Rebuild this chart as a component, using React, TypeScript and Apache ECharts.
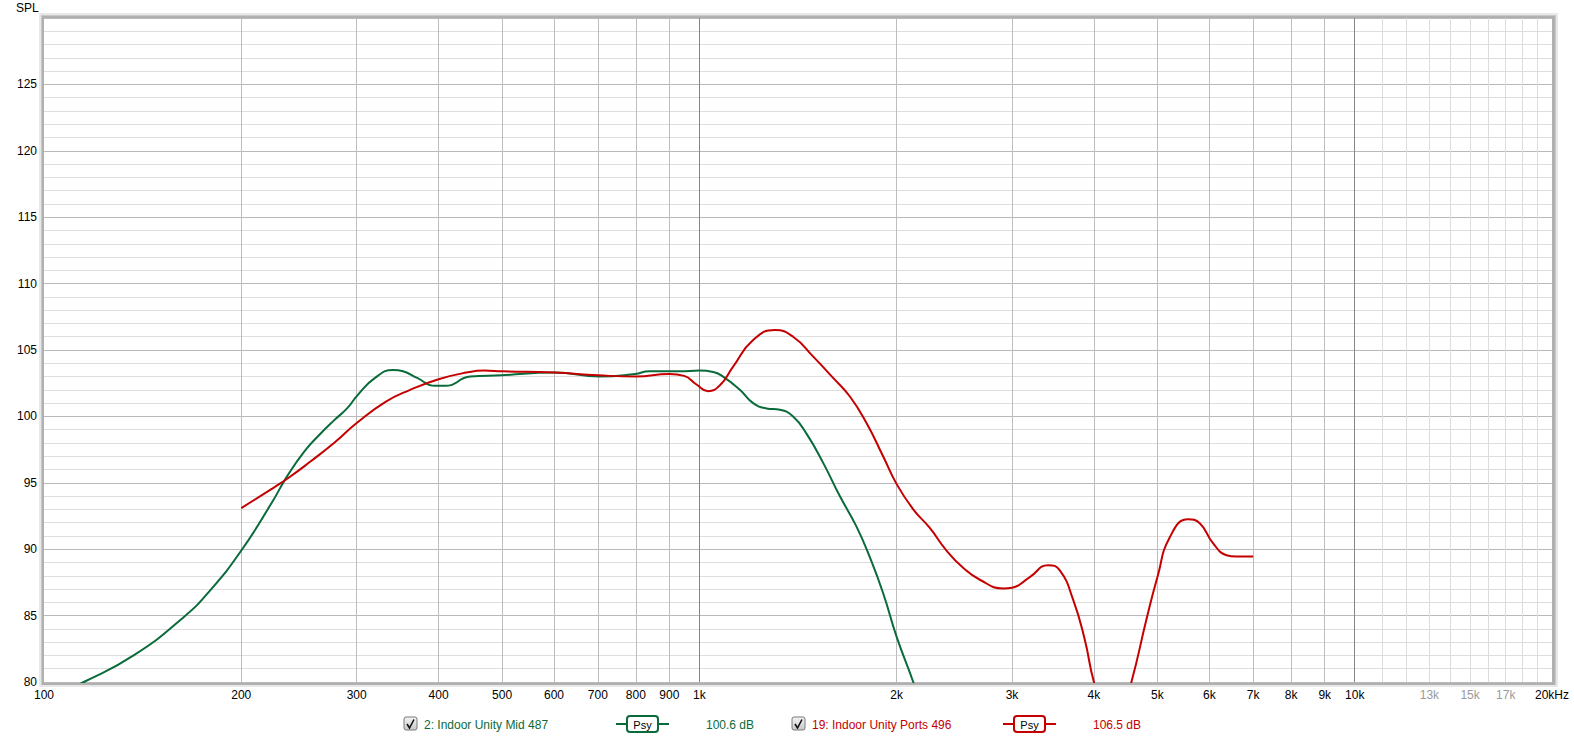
import React, { useEffect, useRef } from "react";
import * as echarts from "echarts";

// ---- data (frequency in Hz, level in dB SPL) ----
const midFreq = [100, 115, 137, 163.5, 180, 200, 222, 235, 250, 263, 277, 290, 301, 320, 341, 353, 371, 395, 410, 447, 499, 601, 705, 798, 838, 935, 1000, 1050, 1087, 1153, 1208, 1266, 1327, 1390, 1457, 1545, 1638, 1737, 1820, 1907, 2000, 2120, 2200];
const midDb = [78.6, 80.0, 82.0, 84.9, 87.0, 89.9, 93.4, 95.5, 97.4, 98.6, 99.7, 100.6, 101.6, 102.9, 103.5, 103.4, 102.9, 102.3, 102.3, 103.0, 103.1, 103.3, 103.0, 103.2, 103.4, 103.4, 103.45, 103.35, 103.0, 102.0, 101.0, 100.6, 100.5, 100.0, 98.7, 96.5, 94.0, 91.7, 89.4, 86.7, 83.4, 80.0, 77.5];

const portsFreq = [200, 222, 236.5, 255, 277, 300, 332, 362, 400, 441, 470, 500, 600, 700, 800, 900, 948, 990, 1031, 1075, 1126, 1208, 1304, 1390, 1492, 1600, 1697, 1799, 1907, 2000, 2120, 2247, 2383, 2526, 2679, 2908, 3000, 3193, 3405, 3548, 3718, 3873, 4000, 4280, 4563, 4810, 5000, 5222, 5570, 5802, 6078, 6373, 6600, 7000];
const portsDb = [93.1, 94.5, 95.4, 96.6, 98.0, 99.5, 101.1, 102.0, 102.8, 103.3, 103.45, 103.4, 103.3, 103.1, 103.0, 103.2, 103.05, 102.4, 101.9, 102.35, 103.75, 105.75, 106.5, 106.0, 104.5, 102.9, 101.5, 99.5, 97.0, 94.9, 93.0, 91.6, 89.9, 88.6, 87.7, 87.05, 87.1, 87.9, 88.8, 88.4, 86.2, 83.2, 80.0, 75.5, 80.0, 84.7, 87.9, 90.9, 92.25, 91.95, 90.45, 89.55, 89.45, 89.45];

const xLabelTicks = [100, 200, 300, 400, 500, 600, 700, 800, 900, 1000, 2000, 3000, 4000, 5000, 6000, 7000, 8000, 9000, 10000, 13000, 15000, 17000, 20000];
const grayLabels = [13000, 15000, 17000];
const xMajorLines = [200, 300, 400, 500, 600, 700, 800, 900, 2000, 3000, 4000, 5000, 6000, 7000, 8000, 9000];
const xDecadeLines = [1000, 10000];
const xFineLines = [11000, 12000, 13000, 14000, 15000, 16000, 17000, 18000, 19000];

const seriesNames = ["2: Indoor Unity Mid 487", "19: Indoor Unity Ports 496"];
const seriesLevels = ["100.6 dB", "106.5 dB"];

const GREEN = "#0a6b3a";
const RED = "#c40000";
const FONT = '"Liberation Sans", Arial, sans-serif';

const zip = (xs: number[], ys: number[]) => xs.map((x, i) => [x, ys[i]]);

function logAxis(extra: any) {
  return {
    type: "log",
    logBase: 10,
    min: 100,
    max: 20000,
    gridIndex: 0,
    position: "bottom",
    offset: 0,
    axisLine: { show: false },
    axisTick: { show: false },
    axisLabel: { show: false },
    splitLine: { show: false },
    ...extra,
  };
}

function valueAxis(extra: any) {
  return {
    type: "value",
    min: 80,
    max: 130,
    gridIndex: 0,
    position: "left",
    offset: 0,
    axisLine: { show: false },
    axisTick: { show: false },
    axisLabel: { show: false },
    splitLine: { show: false },
    ...extra,
  };
}

function legendItem(x0: number, name: string, level: string, color: string, psyX: number, levelX: number) {
  const cy = 724;
  return [
    {
      type: "rect",
      shape: { x: x0, y: cy - 7, width: 13, height: 13, r: 2 },
      style: {
        fill: new echarts.graphic.LinearGradient(0, 0, 0, 1, [
          { offset: 0, color: "#f4f4f4" },
          { offset: 1, color: "#c8c8c8" },
        ]),
        stroke: "#7a7a7a",
        lineWidth: 1,
      },
    },
    {
      type: "polyline",
      shape: { points: [[x0 + 3, cy], [x0 + 5.5, cy + 4], [x0 + 10, cy - 4.5]] },
      style: { stroke: "#111", lineWidth: 1.6, fill: null },
    },
    {
      type: "text",
      style: { text: name, x: x0 + 20, y: cy + 0.5, fill: color, font: `12px ${FONT}`, verticalAlign: "middle" },
    },
    {
      type: "line",
      shape: { x1: psyX, y1: cy, x2: psyX + 53, y2: cy },
      style: { stroke: color, lineWidth: 2 },
    },
    {
      type: "rect",
      shape: { x: psyX + 11, y: cy - 8, width: 31, height: 16, r: 3 },
      style: { fill: "#fff", stroke: color, lineWidth: 2 },
    },
    {
      type: "text",
      style: { text: "Psy", x: psyX + 26.5, y: cy + 0.5, fill: "#000", font: `11px ${FONT}`, align: "center", verticalAlign: "middle" },
    },
    {
      type: "text",
      style: { text: level, x: levelX, y: cy + 0.5, fill: color, font: `12px ${FONT}`, verticalAlign: "middle" },
    },
  ];
}

export default function App() {
  const ref = useRef<HTMLDivElement>(null);

  useEffect(() => {
    if (!ref.current) return;
    const chart = echarts.init(ref.current, undefined, { renderer: "svg" });
    const L = 44, T = 18, W = 1508, H = 664;

    const option: any = {
      animation: false,
      backgroundColor: "#ffffff",
      grid: { left: L, top: T, width: W, height: H, containLabel: false, outerBoundsMode: "none" },
      xAxis: [
        logAxis({
          axisTick: { show: false, customValues: xMajorLines },
          splitLine: { show: true, lineStyle: { color: "#bdbdbd", width: 1 } },
          axisLabel: {
            show: true,
            customValues: xLabelTicks,
            interval: 0,
            margin: 7,
            fontFamily: FONT,
            fontSize: 12,
            color: "#000",
            showMinLabel: true,
            showMaxLabel: true,
            formatter: (v: number) => {
              const r = Math.round(v);
              let s = r >= 1000 ? r / 1000 + "k" : String(r);
              if (r >= 19999) s = "20kHz";
              if (grayLabels.indexOf(r) >= 0) return "{g|" + s + "}";
              return s;
            },
            rich: { g: { color: "#9a9a9a", fontFamily: FONT, fontSize: 12 } },
          },
        }),
        logAxis({
          axisTick: { show: false, customValues: xFineLines },
          splitLine: { show: true, lineStyle: { color: "#dcdcdc", width: 1 } },
        }),
        logAxis({
          axisTick: { show: false, customValues: xDecadeLines },
          splitLine: { show: true, lineStyle: { color: "#858585", width: 1 } },
        }),
      ],
      yAxis: [
        valueAxis({
          interval: 1,
          splitLine: { show: true, lineStyle: { color: "#dedede", width: 1 } },
        }),
        valueAxis({
          interval: 5,
          axisLabel: {
            show: true,
            margin: 7,
            fontFamily: FONT,
            fontSize: 12,
            color: "#000",
            formatter: (v: number) => (v >= 130 ? "" : String(v)),
          },
          splitLine: { show: true, lineStyle: { color: "#b9b9b9", width: 1 } },
        }),
      ],
      series: [
        {
          name: seriesNames[0],
          type: "line",
          xAxisIndex: 0,
          yAxisIndex: 1,
          data: zip(midFreq, midDb),
          smooth: 0.5,
          showSymbol: false,
          clip: true,
          lineStyle: { color: GREEN, width: 2 },
          z: 3,
        },
        {
          name: seriesNames[1],
          type: "line",
          xAxisIndex: 0,
          yAxisIndex: 1,
          data: zip(portsFreq, portsDb),
          smooth: 0.5,
          showSymbol: false,
          clip: true,
          lineStyle: { color: RED, width: 2 },
          z: 4,
        },
      ],
      graphic: [
        // frame around plot area
        { type: "rect", z: -30, silent: true, shape: { x: 39, y: 13, width: 1519, height: 674 }, style: { fill: "#e8e8e8" } },
        { type: "rect", z: -29, silent: true, shape: { x: 41, y: 15, width: 1515, height: 670 }, style: { fill: "#c9c9c9" } },
        { type: "rect", z: -28, silent: true, shape: { x: 42, y: 16, width: 1513, height: 669 }, style: { fill: "#b0b0b0" } },
        { type: "rect", z: -27, silent: true, shape: { x: L, y: T, width: W, height: H }, style: { fill: "#ffffff" } },
        {
          type: "text",
          z: 10,
          style: { text: "SPL", x: 16, y: 8, fill: "#000", font: `12px ${FONT}`, verticalAlign: "middle" },
        },
        ...legendItem(404, seriesNames[0], seriesLevels[0], GREEN, 616, 706),
        ...legendItem(792, seriesNames[1], seriesLevels[1], RED, 1003, 1093),
      ],
    };
    chart.setOption(option);
    return () => chart.dispose();
  }, []);

  return (
    <div
      ref={ref}
      style={{ position: "absolute", left: 0, top: 0, width: "1574px", height: "739px" }}
    />
  );
}
